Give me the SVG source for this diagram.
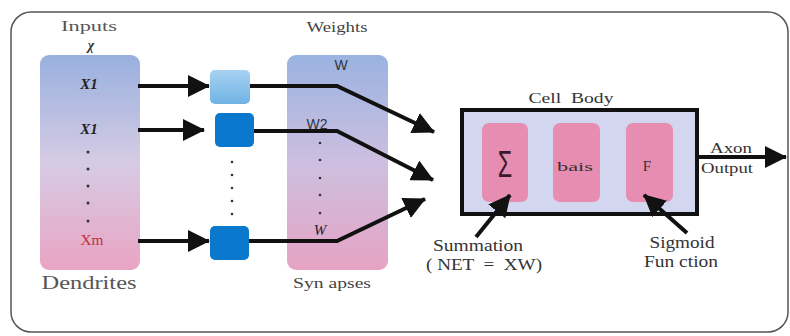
<svg xmlns="http://www.w3.org/2000/svg" width="790" height="336" viewBox="0 0 790 336">
<defs>
<linearGradient id="gIn" x1="0" y1="0" x2="0" y2="1">
<stop offset="0" stop-color="#98b0de"/><stop offset="0.5" stop-color="#d6cbe4"/><stop offset="1" stop-color="#e9a4c3"/>
</linearGradient>
<linearGradient id="gW" x1="0" y1="0" x2="0" y2="1">
<stop offset="0" stop-color="#9ab3e0"/><stop offset="0.5" stop-color="#cdbfe0"/><stop offset="1" stop-color="#e6a3c3"/>
</linearGradient>
<linearGradient id="gLight" x1="0" y1="0" x2="0" y2="1">
<stop offset="0" stop-color="#a9d2f2"/><stop offset="1" stop-color="#6eb2e4"/>
</linearGradient>
<marker id="ah" viewBox="0 0 22 22" refX="21" refY="11" markerWidth="22" markerHeight="22" markerUnits="userSpaceOnUse" orient="auto">
<path d="M0,0 L22,11 L0,22 z" fill="#111"/>
</marker>
<style>
text{text-anchor:middle;}
.conn{stroke:#111;stroke-width:4;fill:none;marker-end:url(#ah);}
.dot{fill:#333;}
.sbox{fill:#0a78cc;}
.inner{fill:#e78db2;}
</style>
</defs>
<rect x="11" y="12" width="777" height="320" rx="20" fill="#fff" stroke="#555" stroke-width="1.5"/>
<g font-family="Liberation Serif, DejaVu Serif, serif">
<g id="inputs">
<text x="89" y="31" font-size="14" fill="#555" textLength="56" lengthAdjust="spacingAndGlyphs">Inputs</text>
<text x="91" y="50" font-size="14" font-style="italic" font-weight="bold" fill="#333">χ</text>
<rect x="40" y="55" width="100" height="215" rx="9" fill="url(#gIn)"/>
<text x="89" y="89" font-size="15" font-style="italic" font-weight="bold" fill="#222">X1</text>
<text x="89" y="134" font-size="15" font-style="italic" font-weight="bold" fill="#222">X1</text>
<circle class="dot" cx="88" cy="152" r="1.5"/>
<circle class="dot" cx="88" cy="169" r="1.5"/>
<circle class="dot" cx="88" cy="186" r="1.5"/>
<circle class="dot" cx="88" cy="203" r="1.5"/>
<circle class="dot" cx="88" cy="221" r="1.5"/>
<text x="92" y="245" font-size="15" fill="#c0303f" textLength="23" lengthAdjust="spacingAndGlyphs">Xm</text>
<text x="89" y="289" font-size="18" fill="#555" textLength="95" lengthAdjust="spacingAndGlyphs">Dendrites</text>
</g>

<g id="gate1"><rect x="210" y="70" width="40" height="34" rx="5" fill="url(#gLight)"/></g>
<g id="gate2"><rect class="sbox" x="215" y="113" width="39" height="34" rx="5"/></g>
<g id="gate3"><rect class="sbox" x="210" y="226" width="39" height="34" rx="5"/></g>
<g id="gateDots">
<circle class="dot" cx="232" cy="162" r="1.3"/>
<circle class="dot" cx="232" cy="175" r="1.3"/>
<circle class="dot" cx="232" cy="188" r="1.3"/>
<circle class="dot" cx="232" cy="201" r="1.3"/>
<circle class="dot" cx="232" cy="214" r="1.3"/>
</g>

<g id="weights">
<text x="337" y="32" font-size="15" fill="#444" textLength="61" lengthAdjust="spacingAndGlyphs">Weights</text>
<rect x="287" y="55" width="101" height="215" rx="9" fill="url(#gW)"/>
<text font-family="Liberation Sans, DejaVu Sans, sans-serif" x="341" y="70" font-size="14" fill="#334">W</text>
<text font-family="Liberation Sans, DejaVu Sans, sans-serif" x="317" y="129" font-size="14" fill="#334">W2</text>
<circle class="dot" cx="320" cy="143" r="1.3"/>
<circle class="dot" cx="320" cy="160" r="1.3"/>
<circle class="dot" cx="320" cy="178" r="1.3"/>
<circle class="dot" cx="320" cy="195" r="1.3"/>
<circle class="dot" cx="320" cy="213" r="1.3"/>
<text x="320" y="235" font-size="15" font-style="italic" fill="#223">W</text>
<text x="332" y="288" font-size="15" fill="#444" textLength="78" lengthAdjust="spacingAndGlyphs">Syn apses</text>
</g>

<g id="cellBody">
<text x="571" y="103" font-size="15" fill="#333" textLength="85" lengthAdjust="spacingAndGlyphs" xml:space="preserve">Cell  Body</text>
<rect x="462" y="110" width="235" height="104" fill="#d2d6ef" stroke="#111" stroke-width="4"/>
</g>
<g id="sum">
<rect class="inner" x="482" y="123" width="46" height="79" rx="7"/>
<text font-family="Liberation Sans, DejaVu Sans, sans-serif" x="505" y="173" font-size="26" fill="#3a1a2a" transform="translate(505 163) scale(0.9 1.45) translate(-505 -163)">Σ</text>
</g>
<g id="bias">
<rect class="inner" x="553" y="123" width="47" height="79" rx="7"/>
<text x="575" y="171" font-size="13" fill="#333" textLength="36" lengthAdjust="spacingAndGlyphs">bais</text>
</g>
<g id="func">
<rect class="inner" x="626" y="123" width="47" height="79" rx="7"/>
<text x="647" y="171" font-size="15" fill="#333">F</text>
</g>

<g id="labels">
<text x="731" y="153" font-size="15" fill="#333" textLength="42" lengthAdjust="spacingAndGlyphs">Axon</text>
<text x="727" y="173" font-size="15" fill="#333" textLength="52" lengthAdjust="spacingAndGlyphs">Output</text>
<text x="478" y="251" font-size="16" fill="#333" textLength="90" lengthAdjust="spacingAndGlyphs">Summation</text>
<text x="484" y="270" font-size="16" fill="#333" textLength="116" lengthAdjust="spacingAndGlyphs" xml:space="preserve">( NET  =  XW)</text>
<text x="682" y="248" font-size="16" fill="#333" textLength="65" lengthAdjust="spacingAndGlyphs">Sigmoid</text>
<text x="681" y="267" font-size="16" fill="#333" textLength="74" lengthAdjust="spacingAndGlyphs">Fun ction</text>
</g>
</g>
<g id="connectors">
<path class="conn" d="M138,86 H209"/>
<path class="conn" d="M138,130 H204"/>
<path class="conn" d="M138,241 H209"/>
<path class="conn" d="M250,86 H337 L434,132"/>
<path class="conn" d="M254,131 H337 L433,180"/>
<path class="conn" d="M249,241 H337 L425,199"/>
<path class="conn" d="M697,157 H786"/>
<path class="conn" d="M476,237 L510,195"/>
<path class="conn" d="M687,233 L644,195"/>
</g>
</svg>
